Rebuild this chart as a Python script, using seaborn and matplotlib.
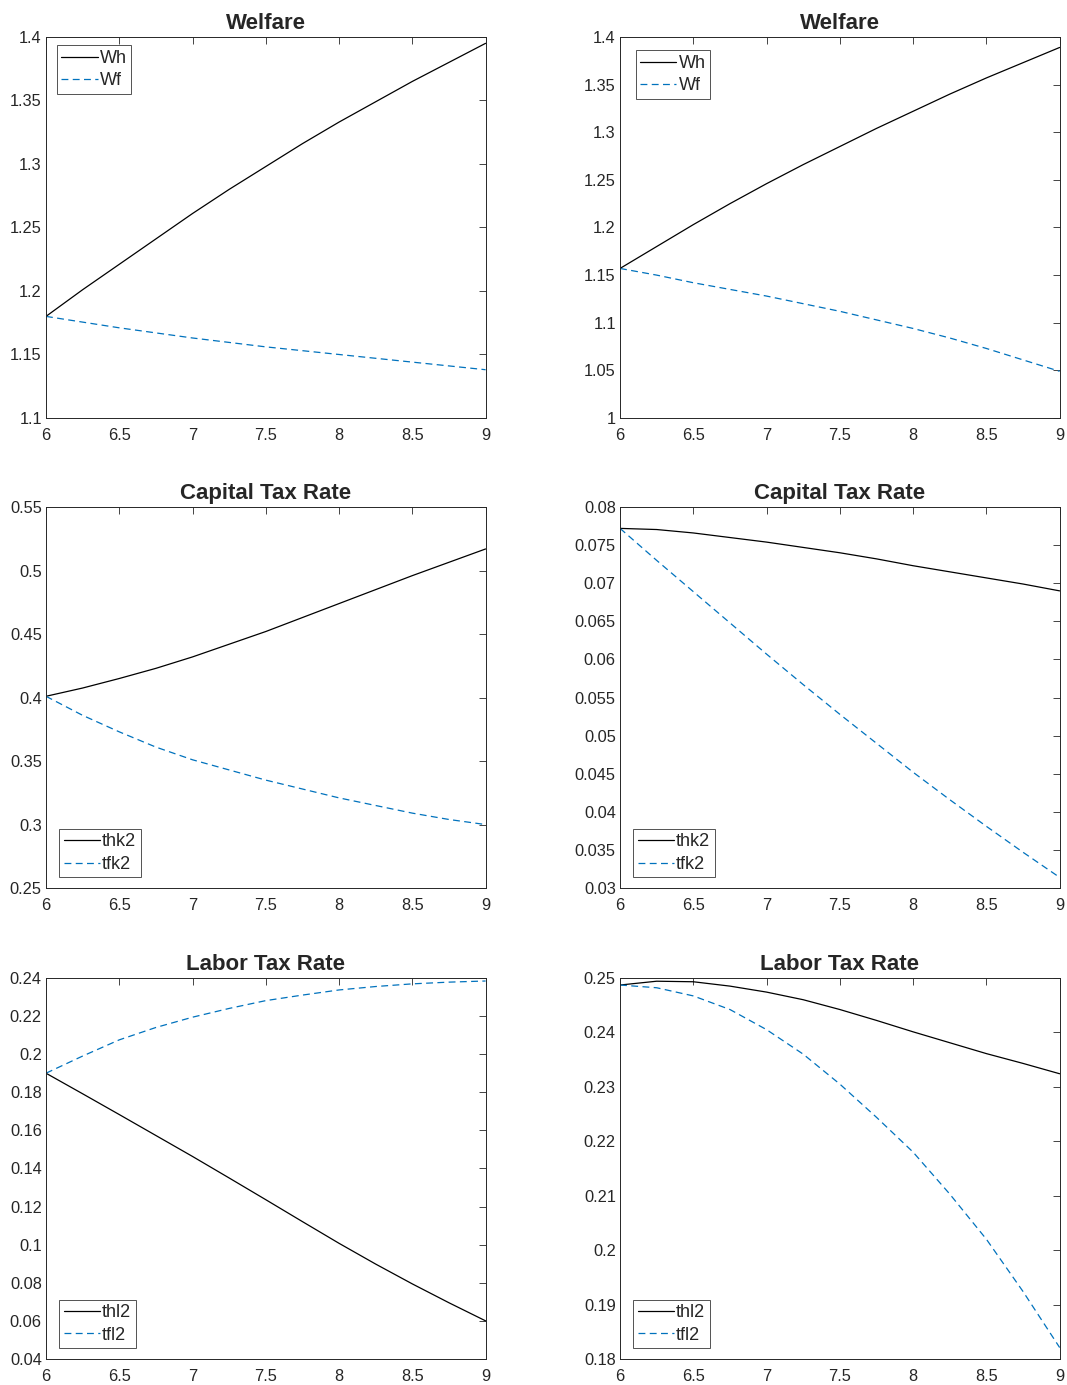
import numpy as np
import pandas as pd
import matplotlib
matplotlib.use("Agg")
import matplotlib.pyplot as plt
from matplotlib.ticker import FormatStrFormatter
import seaborn as sns

# x grid (read at quarter steps)
x = [6, 6.25, 6.5, 6.75, 7, 7.25, 7.5, 7.75, 8, 8.25, 8.5, 8.75, 9]

# welfare, left / right
wh_l = [1.180, 1.201, 1.221, 1.241, 1.261, 1.280, 1.298, 1.316, 1.333, 1.349, 1.365, 1.380, 1.395]
wf_l = [1.180, 1.1755, 1.171, 1.167, 1.163, 1.1595, 1.156, 1.153, 1.150, 1.147, 1.144, 1.141, 1.138]
wh_r = [1.157, 1.180, 1.203, 1.225, 1.246, 1.266, 1.285, 1.304, 1.322, 1.340, 1.357, 1.373, 1.389]
wf_r = [1.157, 1.150, 1.142, 1.135, 1.128, 1.120, 1.112, 1.103, 1.094, 1.084, 1.073, 1.061, 1.049]

# capital tax rate
thk2_l = [0.401, 0.4075, 0.415, 0.423, 0.432, 0.442, 0.452, 0.463, 0.474, 0.485, 0.496, 0.5065, 0.517]
tfk2_l = [0.401, 0.386, 0.373, 0.361, 0.351, 0.343, 0.335, 0.328, 0.321, 0.315, 0.309, 0.304, 0.300]
thk2_r = [0.0772, 0.07705, 0.0766, 0.0760, 0.0754, 0.0747, 0.0740, 0.0732, 0.0723, 0.0715, 0.0707, 0.0699, 0.0690]
tfk2_r = [0.0772, 0.0730, 0.0689, 0.0648, 0.0607, 0.0567, 0.0528, 0.0490, 0.0452, 0.0416, 0.0381, 0.0347, 0.0314]

# labor tax rate
thl2_l = [0.190, 0.1792, 0.1683, 0.1573, 0.1463, 0.1350, 0.1236, 0.1121, 0.1007, 0.0898, 0.0794, 0.0695, 0.060]
tfl2_l = [0.190, 0.199, 0.2075, 0.214, 0.2194, 0.224, 0.2281, 0.231, 0.2337, 0.2355, 0.2369, 0.2378, 0.2384]
thl2_r = [0.2487, 0.2494, 0.2493, 0.2485, 0.2474, 0.2460, 0.2442, 0.2422, 0.2401, 0.2381, 0.2361, 0.2343, 0.2324]
tfl2_r = [0.2487, 0.2482, 0.2467, 0.2442, 0.2405, 0.2360, 0.2305, 0.2244, 0.2180, 0.2103, 0.2020, 0.1924, 0.1821]

sns.set_style("white")
plt.rcParams['font.family'] = ['Liberation Sans', 'DejaVu Sans']

fig = plt.figure(figsize=(10.67, 13.85), dpi=100)

col_x = [0.0431, 0.5811]
row_y = [0.6982, 0.3588, 0.0188]
w, h = 0.4120, 0.2751

panels = [
    # title, h data, f data, labels, ylim, yticks, legend loc
    ("Welfare", wh_l, wf_l, ("Wh", "Wf"), (1.1, 1.4), np.arange(1.1, 1.401, 0.05), "upper left"),
    ("Welfare", wh_r, wf_r, ("Wh", "Wf"), (1.0, 1.4), np.arange(1.0, 1.401, 0.05), "upper left"),
    ("Capital Tax Rate", thk2_l, tfk2_l, ("thk2", "tfk2"), (0.25, 0.55), np.arange(0.25, 0.551, 0.05), "lower left"),
    ("Capital Tax Rate", thk2_r, tfk2_r, ("thk2", "tfk2"), (0.03, 0.08), np.arange(0.03, 0.0801, 0.005), "lower left"),
    ("Labor Tax Rate", thl2_l, tfl2_l, ("thl2", "tfl2"), (0.04, 0.24), np.arange(0.04, 0.2401, 0.02), "lower left"),
    ("Labor Tax Rate", thl2_r, tfl2_r, ("thl2", "tfl2"), (0.18, 0.25), np.arange(0.18, 0.2501, 0.01), "lower left"),
]

edge = "#262626"
blue = "#0072BD"

for i, (title, yh, yf, labs, ylim, yt, loc) in enumerate(panels):
    r, c = divmod(i, 2)
    ax = fig.add_axes([col_x[c], row_y[r], w, h])
    df = pd.DataFrame({"x": x, labs[0]: yh, labs[1]: yf})
    sns.lineplot(data=df, x="x", y=labs[0], ax=ax, color="black", lw=0.9, label=labs[0])
    sns.lineplot(data=df, x="x", y=labs[1], ax=ax, color=blue, lw=0.9,
                 linestyle=(0, (5.5, 3.5)), label=labs[1])
    ax.set_xlim(6, 9)
    ax.set_ylim(*ylim)
    ax.set_xticks([6, 6.5, 7, 7.5, 8, 8.5, 9])
    ax.set_yticks(yt)
    ax.xaxis.set_major_formatter(FormatStrFormatter('%g'))
    ax.yaxis.set_major_formatter(FormatStrFormatter('%g'))
    ax.set_xlabel("")
    ax.set_ylabel("")
    ax.tick_params(direction="in", length=5, width=0.6, top=True, right=True,
                   labelsize=11.8, colors=edge)
    ax.tick_params(axis="x", pad=7)
    ax.tick_params(axis="y", pad=3)
    for s in ax.spines.values():
        s.set_color(edge)
        s.set_linewidth(0.7)
    ax.set_title(title, fontsize=16, fontweight="bold", pad=6)
    if c == 1 and r == 0:
        bb = (0.036, 0.965)
    elif loc == "upper left":
        bb = (0.025, 0.978)
    else:
        bb = (0.03, 0.028)
    leg = ax.legend(loc=loc, bbox_to_anchor=bb, frameon=True, fancybox=False,
                    fontsize=13, handlelength=2.0, handletextpad=0.12,
                    borderpad=0.25, labelspacing=0.3, borderaxespad=0)
    leg.get_frame().set_edgecolor(edge)
    leg.get_frame().set_linewidth(0.7)
    for t in leg.get_texts():
        t.set_color(edge)

fig.savefig("out.png", dpi=100)
